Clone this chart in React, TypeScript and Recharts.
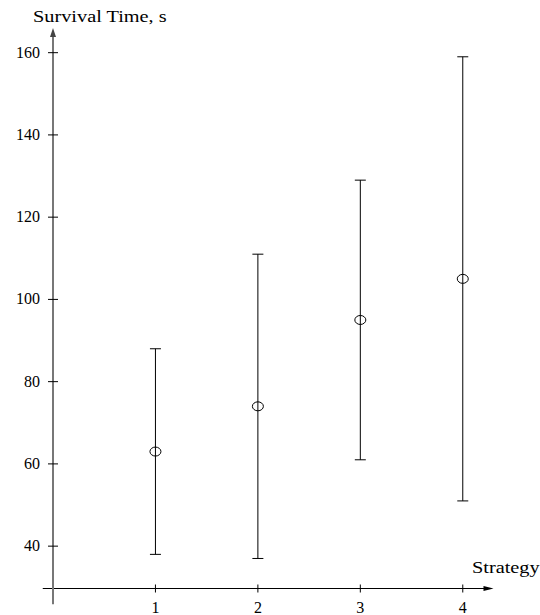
import {
  ErrorBar,
  ReferenceDot,
  ReferenceLine,
  Scatter,
  ScatterChart,
  XAxis,
  YAxis,
} from "recharts";

const strategies = [1, 2, 3, 4];
const meanTime = [63, 74, 95, 105];
const lowTime = [38, 37, 61, 51];
const highTime = [88, 111, 129, 159];
const yTicks = [40, 60, 80, 100, 120, 140, 160];

const X_DOMAIN: [number, number] = [0, 4.3];
const Y_DOMAIN: [number, number] = [29.7, 166];
// how far the axis lines run past the origin
const X_TAIL = -0.1;
const Y_TAIL = 25.9;

const FONT = "Liberation Serif, Times New Roman, serif";

const data = strategies.map((s, i) => ({
  strategy: s,
  mean: meanTime[i],
  err: [meanTime[i] - lowTime[i], highTime[i] - meanTime[i]],
}));

function Ring(props: any) {
  const { cx, cy } = props;
  return (
    <ellipse cx={cx} cy={cy} rx={5.5} ry={4.5} fill="none" stroke="#000" strokeWidth={1} />
  );
}

function UpArrow(props: any) {
  const { cx, cy } = props;
  return <path d={`M${cx},${cy} L${cx - 3},${cy + 9} L${cx + 3},${cy + 9} Z`} fill="#444" />;
}

function RightArrow(props: any) {
  const { cx, cy } = props;
  return <path d={`M${cx},${cy} L${cx - 10},${cy - 2.5} L${cx - 10},${cy + 2.5} Z`} fill="#000" />;
}

function YTick({ x, y, payload }: any) {
  return (
    <g>
      <line x1={x - 5} x2={x + 5} y1={y} y2={y} stroke="#000" strokeWidth={1} />
      <text x={x - 13} y={y} dy={5} textAnchor="end" fontFamily={FONT} fontSize={16} fill="#000">
        {payload.value}
      </text>
    </g>
  );
}

function XTick({ x, y, payload }: any) {
  return (
    <g>
      <line x1={x} x2={x} y1={y - 4} y2={y + 4} stroke="#000" strokeWidth={1} />
      <text x={x} y={y + 24} textAnchor="middle" fontFamily={FONT} fontSize={16} fill="#000">
        {payload.value}
      </text>
    </g>
  );
}

function Title({ x, y, text }: { x: number; y: number; text: string }) {
  return (
    <text
      transform={`translate(${x},${y}) scale(1.27,1)`}
      fontFamily={FONT}
      fontSize={16}
      fill="#000"
    >
      {text}
    </text>
  );
}

export default function App() {
  return (
    <div style={{ position: "absolute", left: 0, top: 0, background: "#fff" }}>
      <ScatterChart
        width={540}
        height={615}
        margin={{ top: 28, right: 46.5, bottom: 0, left: 0 }}
      >
        <XAxis
          type="number"
          dataKey="strategy"
          domain={X_DOMAIN}
          allowDataOverflow
          ticks={strategies}
          tick={<XTick />}
          tickLine={false}
          axisLine={false}
          tickSize={0}
          tickMargin={0}
          height={26.5}
          label={{ content: () => <Title x={472} y={572.5} text="Strategy" /> }}
        />
        <YAxis
          type="number"
          dataKey="mean"
          domain={Y_DOMAIN}
          allowDataOverflow
          ticks={yTicks}
          tick={<YTick />}
          tickLine={false}
          axisLine={false}
          tickSize={0}
          tickMargin={0}
          width={53}
          label={{ content: () => <Title x={33} y={21.5} text="Survival Time, s" /> }}
        />
        <ReferenceLine
          segment={[
            { x: X_TAIL, y: Y_DOMAIN[0] },
            { x: X_DOMAIN[1] - 0.05, y: Y_DOMAIN[0] },
          ]}
          stroke="#000"
          strokeWidth={1}
          ifOverflow="visible"
        />
        <ReferenceLine
          segment={[
            { x: 0, y: Y_TAIL },
            { x: 0, y: Y_DOMAIN[1] - 1 },
          ]}
          stroke="#777"
          strokeWidth={2}
          ifOverflow="visible"
        />
        <ReferenceDot x={0} y={Y_DOMAIN[1]} shape={UpArrow} ifOverflow="visible" />
        <ReferenceDot x={X_DOMAIN[1]} y={Y_DOMAIN[0]} shape={RightArrow} ifOverflow="visible" />
        <Scatter data={data} shape={Ring} isAnimationActive={false}>
          <ErrorBar
            dataKey="err"
            direction="y"
            width={5.5}
            stroke="#000"
            strokeWidth={1}
            isAnimationActive={false}
          />
        </Scatter>
      </ScatterChart>
    </div>
  );
}
